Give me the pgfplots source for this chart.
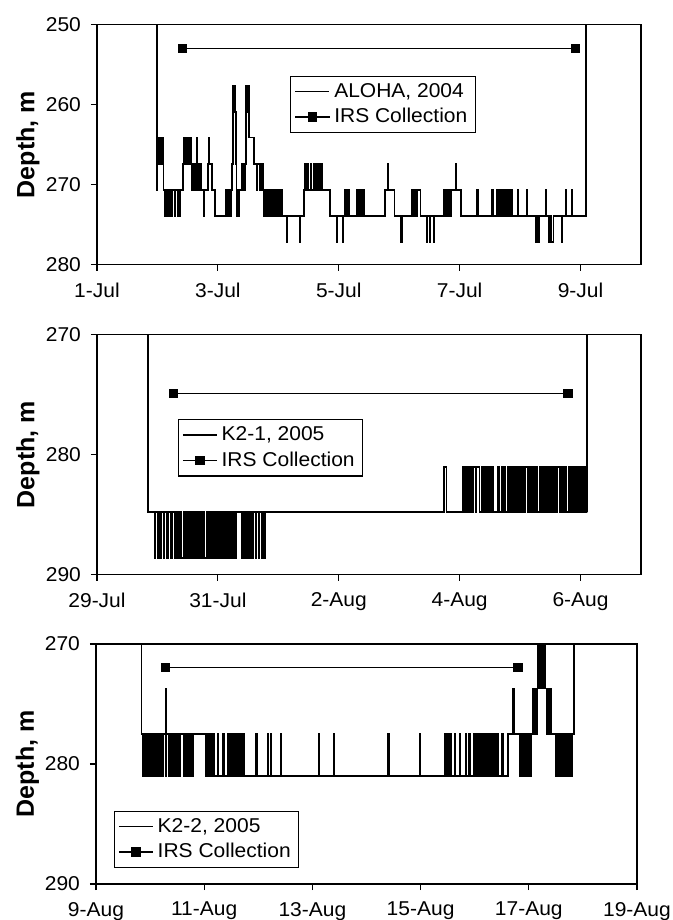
\documentclass[border=0pt]{standalone}
\usepackage{fontspec}
\setmainfont{Liberation Sans}[FakeStretch=1.05]
\newfontfamily\labfont{Liberation Sans}
\usepackage{pgfplots}
\pgfplotsset{compat=1.18}

\pgfplotsset{
  panel/.style={
    scale only axis, width=272pt, height=120pt,
    y dir=reverse, enlargelimits=false,
    axis line style={line width=0.6pt},
    tick style={line width=0.6pt, black},
    tick align=outside, major tick length=3pt,
    xtick pos=left, ytick pos=left,
    /pgf/number format/assume math mode=true,
    ticklabel style={font=\fontsize{10}{11}\selectfont},
    yticklabel style={xshift=-1.5pt},
    xticklabel style={yshift=-2.5pt},
    ylabel={Depth, m},
    ylabel style={font=\labfont\bfseries\fontsize{12.5}{14}\selectfont,
      at={(axis description cs:-0.127,0.5)}, anchor=center},
    legend style={draw=black, line width=0.6pt, fill=white,
      font=\fontsize{10}{11}\selectfont, cells={anchor=west},
      inner xsep=2pt, inner ysep=1.5pt, row sep=0pt, anchor=north west},
  },
  depth/.style={black, line width=0.85pt, const plot, no marks,
    legend image code/.code={\draw[black, line width=0.7pt] (0pt,0pt) -- (17pt,0pt);}},
  irs/.style={black, line width=0.7pt, mark=square*, mark size=2pt},
}

\begin{document}
\begin{tikzpicture}
\path[use as bounding box] (-48.5pt,-327.65pt) rectangle (288pt,132.35pt);

% ---- ALOHA 2004 ----
\begin{axis}[panel, at={(0pt,0pt)}, anchor=south west,
  xmin=1, xmax=10, ymin=250, ymax=280, ytick={250,260,270,280},
  xtick={1,3,5,7,9}, xticklabels={1-Jul,3-Jul,5-Jul,7-Jul,9-Jul},
  legend style={at={(axis description cs:0.355,0.7875)}}]
\addplot[depth] coordinates {
(1.99,250)(1.99,270.7)(2.00,267.4)
(2.005,264.1)(2.015,267.4)(2.025,264.1)(2.035,267.4)(2.045,264.1)(2.055,267.4)(2.065,264.1)(2.075,267.4)(2.085,264.1)(2.095,267.4)(2.10,270.7)
(2.13,273.9)(2.14,270.7)(2.155,273.9)(2.165,270.7)(2.18,273.9)(2.19,270.7)(2.20,273.9)(2.205,270.7)(2.24,273.9)(2.25,270.7)(2.29,273.9)(2.30,270.7)(2.33,273.9)(2.345,270.7)(2.37,273.9)(2.38,270.7)
(2.42,267.4)
(2.43,264.1)(2.44,267.4)(2.45,264.1)(2.46,267.4)(2.47,264.1)(2.48,267.4)(2.49,264.1)(2.50,267.4)(2.52,264.1)(2.53,267.4)(2.545,264.1)(2.555,267.4)
(2.565,270.7)(2.575,267.4)(2.585,270.7)(2.595,267.4)(2.605,270.7)(2.615,267.4)(2.625,270.7)(2.635,267.4)(2.645,264.1)(2.655,267.4)(2.665,270.7)(2.675,267.4)(2.685,270.7)(2.70,267.4)(2.715,270.7)
(2.77,273.9)(2.78,270.7)
(2.84,267.4)(2.85,264.1)(2.86,267.4)(2.90,270.7)(2.95,273.9)
(3.13,270.7)(3.14,273.9)(3.16,270.7)(3.17,273.9)(3.19,270.7)(3.20,273.9)
(3.22,270.7)(3.235,267.4)(3.245,264.1)(3.25,260.9)(3.255,257.6)(3.265,260.9)(3.27,257.6)(3.28,260.9)(3.285,257.6)(3.29,260.9)(3.295,264.1)(3.30,267.4)
(3.31,270.7)(3.32,273.9)(3.335,270.7)(3.35,273.9)(3.36,270.7)(3.40,267.4)(3.42,270.7)(3.45,267.4)(3.465,264.1)
(3.47,257.6)(3.48,260.9)(3.485,257.6)(3.495,260.9)(3.50,257.6)(3.51,260.9)(3.52,264.1)
(3.60,267.4)(3.64,270.7)(3.65,267.4)(3.70,270.7)(3.71,267.4)(3.75,270.7)
(3.76,273.9)(3.77,270.7)(3.78,273.9)(3.79,270.7)(3.80,273.9)(3.81,270.7)(3.82,273.9)(3.83,270.7)(3.845,273.9)(3.855,270.7)(3.87,273.9)(3.88,270.7)(3.90,273.9)(3.91,270.7)(3.93,273.9)(3.94,270.7)(3.96,273.9)(3.97,270.7)(3.99,273.9)(4.00,270.7)(4.02,273.9)(4.03,270.7)(4.06,273.9)
(4.14,277.2)(4.145,273.9)(4.355,277.2)(4.36,273.9)
(4.43,270.7)(4.44,267.4)(4.45,270.7)(4.46,267.4)(4.47,270.7)(4.48,267.4)(4.49,270.7)(4.53,267.4)(4.54,270.7)(4.58,267.4)(4.59,270.7)(4.62,267.4)(4.63,270.7)(4.64,267.4)(4.65,270.7)(4.66,267.4)(4.67,270.7)(4.68,267.4)(4.69,270.7)(4.70,267.4)(4.71,270.7)(4.72,267.4)(4.73,270.7)
(4.855,273.9)(4.96,277.2)(4.965,273.9)(5.065,277.2)(5.07,273.9)
(5.10,270.7)(5.11,273.9)(5.12,270.7)(5.13,273.9)(5.14,270.7)(5.15,273.9)(5.16,270.7)(5.17,273.9)(5.30,270.7)(5.31,273.9)(5.32,270.7)(5.33,273.9)(5.34,270.7)(5.35,273.9)(5.36,270.7)(5.37,273.9)(5.38,270.7)(5.39,273.9)(5.40,270.7)(5.42,273.9)
(5.76,270.7)(5.81,267.4)(5.815,270.7)(5.92,273.9)
(6.03,277.2)(6.045,273.9)
(6.21,270.7)(6.22,273.9)(6.23,270.7)(6.24,273.9)(6.25,270.7)(6.26,273.9)(6.27,270.7)(6.28,273.9)(6.29,270.7)(6.35,273.9)
(6.45,277.2)(6.46,273.9)(6.50,277.2)(6.51,273.9)(6.575,277.2)(6.585,273.9)
(6.74,270.7)(6.75,273.9)(6.76,270.7)(6.77,273.9)(6.78,270.7)(6.79,273.9)(6.80,270.7)(6.81,273.9)(6.82,270.7)(6.83,273.9)(6.84,270.7)(6.85,273.9)(6.86,270.7)(6.93,267.4)(6.935,270.7)(7.02,273.9)
(7.29,270.7)(7.30,273.9)(7.54,270.7)(7.55,273.9)(7.62,270.7)(7.63,273.9)(7.65,270.7)(7.66,273.9)(7.68,270.7)(7.69,273.9)(7.71,270.7)(7.72,273.9)(7.74,270.7)(7.75,273.9)(7.77,270.7)(7.78,273.9)(7.80,270.7)(7.81,273.9)(7.83,270.7)(7.84,273.9)(7.86,270.7)(7.875,273.9)
(7.96,270.7)(7.97,273.9)(8.11,270.7)(8.12,273.9)
(8.26,277.2)(8.27,273.9)(8.30,277.2)(8.31,273.9)(8.42,270.7)(8.43,273.9)(8.47,277.2)(8.48,273.9)(8.49,277.2)(8.50,273.9)(8.51,277.2)(8.55,273.9)(8.69,277.2)(8.70,273.9)(8.75,270.7)(8.76,273.9)(8.855,270.7)(8.865,273.9)(9.09,273.9)(9.09,250)
};
\addlegendentry{ALOHA, 2004}
\addplot[irs] coordinates {(2.415,253.0)(8.916,253.0)};
\addlegendentry{IRS Collection}
\end{axis}

% ---- K2-1 2005 ----
\begin{axis}[panel, at={(0pt,-155pt)}, anchor=south west,
  xmin=29, xmax=38, ymin=270, ymax=290, ytick={270,280,290},
  xtick={29,31,33,35,37}, xticklabels={29-Jul,31-Jul,2-Aug,4-Aug,6-Aug},
  legend style={at={(axis description cs:0.148,0.649)}}]
\addplot[depth] coordinates {
(29.846,270)(29.846,284.8)
(29.95,288.6)(29.96,284.8)(30.01,288.6)(30.02,284.8)(30.045,288.6)(30.055,284.8)(30.10,288.6)(30.11,284.8)
(30.16,288.6)(30.17,284.8)
(30.22,288.6)(30.25,284.8)(30.28,288.6)(30.31,284.8)(30.34,288.6)(30.37,284.8)(30.40,288.6)(30.43,284.8)(30.46,288.6)(30.49,284.8)(30.52,288.6)(30.55,284.8)(30.58,288.6)(30.61,284.8)(30.64,288.6)(30.67,284.8)(30.69,288.6)(30.70,284.8)
(30.72,288.6)(30.75,284.8)(30.78,288.6)(30.81,284.8)(30.84,288.6)(30.87,284.8)(30.90,288.6)(30.93,284.8)(30.96,288.6)(30.99,284.8)(31.02,288.6)(31.05,284.8)(31.08,288.6)(31.11,284.8)(31.14,288.6)(31.17,284.8)(31.18,288.6)(31.19,284.8)
(31.22,288.6)(31.23,284.8)(31.255,288.6)(31.265,284.8)(31.29,288.6)(31.30,284.8)
(31.40,288.6)(31.43,284.8)(31.46,288.6)(31.49,284.8)(31.52,288.6)(31.55,284.8)(31.575,288.6)(31.585,284.8)(31.62,288.6)(31.63,284.8)(31.68,288.6)(31.69,284.8)(31.73,288.6)(31.74,284.8)(31.765,288.6)(31.775,284.8)
(34.74,281.0)(34.78,284.8)
(35.05,281.0)(35.08,284.8)(35.11,281.0)(35.14,284.8)(35.17,281.0)(35.20,284.8)(35.23,281.0)(35.26,284.8)(35.28,281.0)
(35.33,284.8)(35.36,281.0)(35.39,284.8)(35.42,281.0)(35.45,284.8)(35.48,281.0)(35.51,284.8)(35.54,281.0)(35.56,284.8)
(35.63,281.0)(35.66,284.8)(35.69,281.0)(35.72,284.8)(35.74,281.0)(35.76,284.8)(35.79,281.0)(35.82,284.8)(35.85,281.0)(35.88,284.8)(35.91,281.0)(35.94,284.8)(35.97,281.0)(36.00,284.8)(36.03,281.0)(36.06,284.8)(36.09,281.0)(36.12,284.8)(36.15,281.0)(36.18,284.8)(36.20,281.0)
(36.23,284.8)(36.26,281.0)(36.29,284.8)(36.32,281.0)(36.35,284.8)(36.38,281.0)(36.41,284.8)(36.44,281.0)(36.47,284.8)(36.50,281.0)(36.53,284.8)(36.56,281.0)(36.59,284.8)(36.62,281.0)(36.65,284.8)(36.68,281.0)(36.71,284.8)(36.74,281.0)(36.77,284.8)(36.80,281.0)(36.83,284.8)(36.86,281.0)(36.89,284.8)(36.92,281.0)(36.95,284.8)(36.98,281.0)(37.01,284.8)(37.04,281.0)(37.07,284.8)(37.10,281.0)(37.11,284.8)(37.11,270)
};
\addlegendentry{K2-1, 2005}
\addplot[irs] coordinates {(30.27,274.9)(36.79,274.9)};
\addlegendentry{IRS Collection}
\end{axis}

% ---- K2-2 2005 ----
\begin{axis}[panel, at={(-0.5pt,-309.65pt)}, anchor=south west, width=270.5pt,
  xmin=9, xmax=19, ymin=270, ymax=290, ytick={270,280,290},
  xtick={9,11,13,15,17,19}, xticklabels={9-Aug,11-Aug,13-Aug,15-Aug,17-Aug,19-Aug},
  legend style={at={(axis description cs:0.0325,0.306)}}]
\addplot[depth] coordinates {
(9.84,270)(9.84,277.5)
(9.86,281.0)(9.88,277.5)(9.90,281.0)(9.92,277.5)(9.94,281.0)(9.96,277.5)(9.98,281.0)(10.00,277.5)(10.02,281.0)(10.04,277.5)(10.06,281.0)(10.08,277.5)(10.10,281.0)(10.12,277.5)(10.14,281.0)(10.16,277.5)(10.18,281.0)(10.20,277.5)(10.22,281.0)(10.245,277.5)
(10.285,281.0)(10.29,273.7)(10.295,277.5)
(10.34,281.0)(10.36,277.5)(10.38,281.0)(10.40,277.5)(10.42,281.0)(10.44,277.5)(10.46,281.0)(10.48,277.5)(10.50,281.0)(10.52,277.5)(10.54,281.0)(10.56,277.5)
(10.63,281.0)(10.65,277.5)(10.67,281.0)(10.69,277.5)(10.71,281.0)(10.73,277.5)(10.75,281.0)(10.77,277.5)(10.79,281.0)(10.80,277.5)
(11.03,281.0)(11.05,277.5)(11.07,281.0)(11.09,277.5)(11.11,281.0)(11.13,277.5)(11.15,281.0)(11.17,277.5)(11.19,281.0)
(11.25,277.5)(11.26,281.0)(11.35,277.5)(11.36,281.0)
(11.44,277.5)(11.46,281.0)(11.48,277.5)(11.50,281.0)(11.52,277.5)(11.54,281.0)(11.56,277.5)(11.58,281.0)(11.60,277.5)(11.62,281.0)(11.64,277.5)(11.66,281.0)(11.68,277.5)(11.70,281.0)(11.72,277.5)(11.74,281.0)
(11.96,277.5)(11.97,281.0)(12.18,277.5)(12.19,281.0)(12.23,277.5)(12.24,281.0)(12.42,277.5)(12.43,281.0)(13.12,277.5)(13.13,281.0)(13.40,277.5)(13.41,281.0)(14.40,277.5)(14.41,281.0)(14.98,277.5)(14.99,281.0)
(15.44,277.5)(15.46,281.0)(15.48,277.5)(15.50,281.0)(15.52,277.5)(15.54,281.0)(15.56,277.5)(15.57,281.0)
(15.63,277.5)(15.64,281.0)(15.73,277.5)(15.74,281.0)(15.83,277.5)(15.85,281.0)(15.89,277.5)(15.91,281.0)
(15.99,277.5)(16.01,281.0)(16.03,277.5)(16.05,281.0)(16.07,277.5)(16.09,281.0)(16.11,277.5)(16.13,281.0)(16.15,277.5)(16.17,281.0)(16.19,277.5)(16.21,281.0)(16.23,277.5)(16.25,281.0)(16.27,277.5)(16.29,281.0)(16.31,277.5)(16.33,281.0)(16.35,277.5)(16.37,281.0)(16.39,277.5)(16.41,281.0)(16.43,277.5)(16.44,281.0)
(16.51,277.5)(16.52,281.0)(16.61,277.5)
(16.71,273.7)(16.72,277.5)
(16.83,281.0)(16.85,277.5)(16.87,281.0)(16.89,277.5)(16.91,281.0)(16.93,277.5)(16.95,281.0)(16.97,277.5)(16.99,281.0)(17.01,277.5)(17.03,281.0)(17.05,277.5)
(17.07,273.7)(17.09,277.5)(17.11,273.7)(17.13,277.5)(17.15,273.7)
(17.16,270)(17.18,273.7)(17.20,270)(17.22,273.7)(17.24,270)(17.26,273.7)(17.28,270)(17.30,273.7)
(17.33,277.5)(17.35,273.7)(17.37,277.5)(17.40,273.7)(17.41,277.5)
(17.50,281.0)(17.52,277.5)(17.54,281.0)(17.56,277.5)(17.58,281.0)(17.60,277.5)(17.62,281.0)(17.64,277.5)(17.66,281.0)(17.68,277.5)(17.70,281.0)(17.72,277.5)(17.74,281.0)(17.76,277.5)(17.78,281.0)(17.80,277.5)(17.84,277.5)(17.84,270)
};
\addlegendentry{K2-2, 2005}
\addplot[irs] coordinates {(10.29,271.95)(16.80,271.95)};
\addlegendentry{IRS Collection}
\end{axis}
\end{tikzpicture}
\end{document}
